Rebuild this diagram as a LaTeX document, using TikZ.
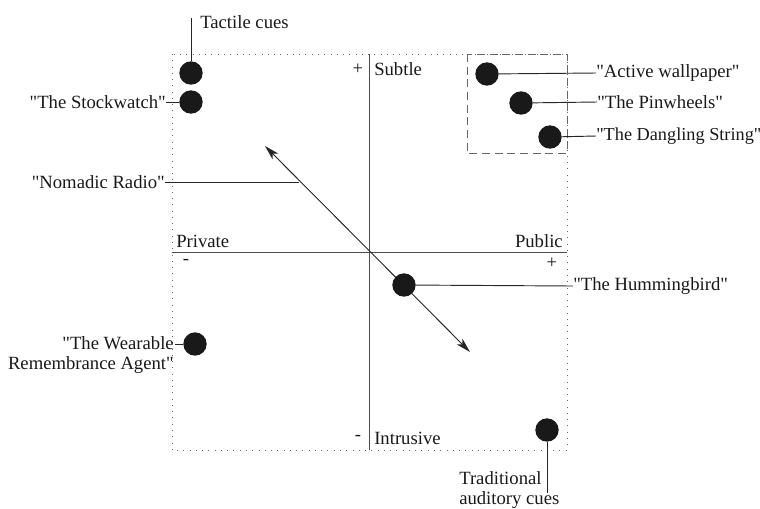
\documentclass[tikz,border=0pt]{standalone}
\usepackage{fontspec}
\setmainfont{Liberation Serif}[Ligatures=TeXOff]
\usetikzlibrary{arrows.meta}
\begin{document}
\begin{tikzpicture}[x=0.75pt,y=-0.75pt,
  lbl/.style={inner sep=0pt,font=\fontsize{14}{15}\selectfont,text=black!90},
  dot/.style={circle,fill=black!90,minimum size=17.5pt,inner sep=0pt},
  axis/.style={draw=black!70,line width=0.7pt},
  lead/.style={draw=black!85,line width=0.7pt}]
\useasboundingbox (0,0) rectangle (760,508);
% outer dotted box
\draw[black!60,line width=0.7pt,dash pattern=on 0.7pt off 4pt] (172,54) rectangle (567,450);
% dashed box
\draw[black!60,line width=0.6pt,dash pattern=on 6pt off 3.5pt] (467,54) rectangle (567,153);
% axes
\coordinate (vt) at (369,54); \coordinate (vb) at (369,450);
\coordinate (hl) at (172,252); \coordinate (hr) at (567,252);
\draw[axis] (vt) -- (vb);
\draw[axis] (hl) -- (hr);
% axis labels
\node[lbl,anchor=west] (subtle) at (374,69) {Subtle};
\node[lbl] (pt) at (358,69) {+};
\node[lbl,anchor=west] (private) at (176,241) {Private};
\node[lbl,anchor=east] (public) at (563,241) {Public};
\node[lbl] (ml) at (186,262) {-};
\node[lbl] (pr) at (552,263) {+};
\node[lbl] (mb) at (358,438) {-};
\node[lbl,anchor=west] (intr) at (374,438) {Intrusive};
% Nomadic radio arrow
\coordinate (a1) at (265,146); \coordinate (a2) at (470,352);
\draw[black!85,line width=0.7pt,{Stealth[length=11pt,width=6pt,inset=3pt]}-{Stealth[length=11pt,width=6pt,inset=3pt]}] (a1) -- (a2);
% dots
\node[dot] (tact) at (191,73) {};
\node[dot] (stock) at (191,102) {};
\node[dot] (wall) at (487,74) {};
\node[dot] (pin) at (521,103) {};
\node[dot] (dang) at (550,137) {};
\node[dot] (humm) at (404,285) {};
\node[dot] (wear) at (195,344) {};
\node[dot] (trad) at (547,430) {};
% labels
\node[lbl,anchor=west] (ltact) at (200,22) {Tactile cues};
\coordinate (ctact) at (191,18);
\draw[lead] (tact) -- (ctact);
\node[lbl,anchor=east] (lstock) at (166,102) {"The Stockwatch"};
\draw[lead] (stock) -- (lstock.east);
\node[lbl,anchor=west] (lwall) at (596,73) {"Active wallpaper"};
\draw[lead] (wall) -- (lwall.west);
\node[lbl,anchor=west] (lpin) at (597,102) {"The Pinwheels"};
\draw[lead] (pin) -- (lpin.west);
\node[lbl,anchor=west,font=\fontsize{13.7}{15}\selectfont] (ldang) at (596,136) {"The Dangling String"};
\draw[lead] (dang) -- (ldang.west);
\node[lbl,anchor=east] (lnom) at (165,182) {"Nomadic Radio"};
\coordinate (cnom) at (299,182);
\draw[lead] (lnom.east) -- (cnom);
\node[lbl,anchor=west] (lhumm) at (573,286) {"The Hummingbird"};
\draw[lead] (humm) -- (lhumm.west);
\node[lbl,anchor=east,align=right,font=\fontsize{14}{15}\selectfont] (lwear) at (174,355) {"The Wearable\\Remembrance Agent"};
\coordinate (cwear) at (175,344);
\draw[lead] (cwear) -- (wear);
\node[lbl,anchor=west,align=left,font=\fontsize{14}{14.5}\selectfont] (ltrad) at (459,490) {Traditional\\auditory cues};
\coordinate (ctrad) at (547,493);
\draw[lead] (trad) -- (ctrad);
\end{tikzpicture}
\end{document}
